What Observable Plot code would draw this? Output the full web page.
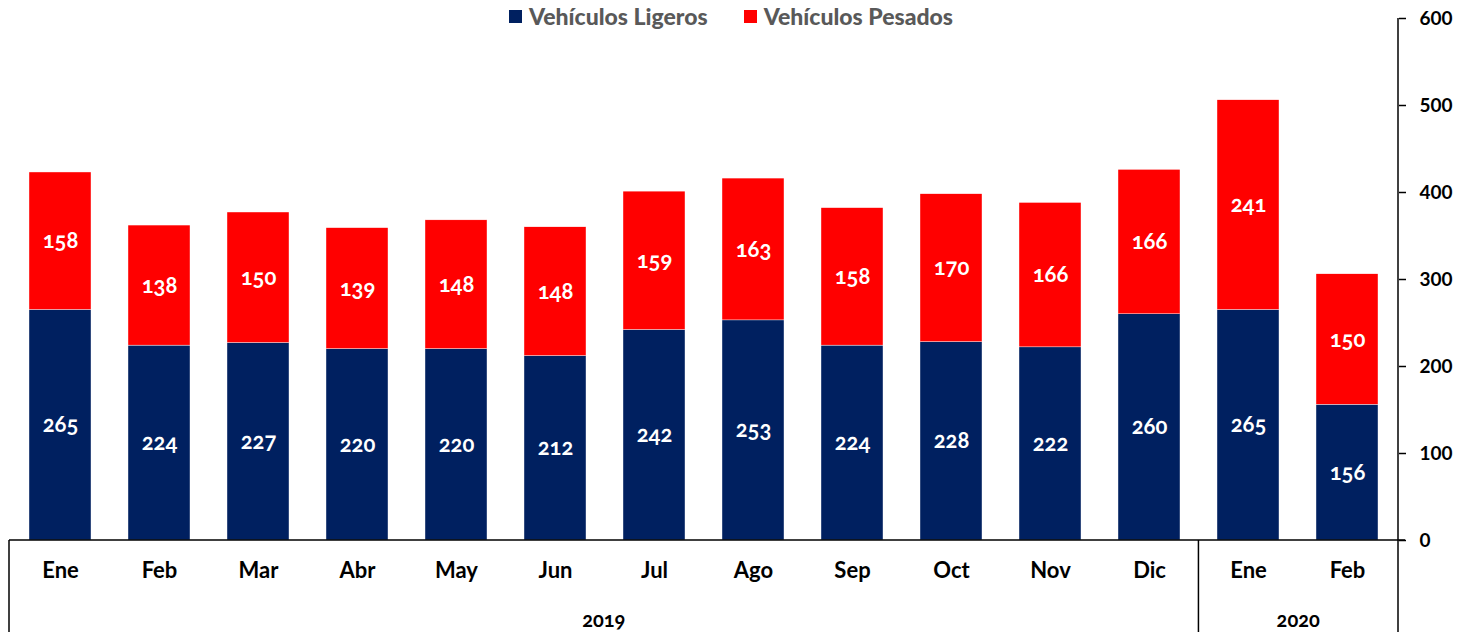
<!DOCTYPE html>
<html>
<head>
<meta charset="utf-8">
<script src="https://cdn.jsdelivr.net/npm/d3@7"></script>
<script src="https://cdn.jsdelivr.net/npm/@observablehq/plot@0.6"></script>
<style>
  html, body { margin: 0; padding: 0; background: #fff; }
  #wrap { position: relative; width: 1462px; height: 632px; font-family: Lato, "Open Sans", sans-serif; }
  #legend { position: absolute; top: 2px; left: 0; width: 1462px; display: flex; justify-content: center; gap: 36px;
            font-size: 23px; font-weight: 900; color: #595959; padding-left: 0; box-sizing: border-box; }
  #legend .item { display: flex; align-items: center; gap: 7px; }
  #legend .sw { width: 13px; height: 13px; display: inline-block; }
  svg { font-variant-numeric: oldstyle-nums; }
</style>
</head>
<body>
<div id="wrap">
  <div id="chart"></div>
  <div id="legend"></div>
</div>
<script>
const months = ["Ene","Feb","Mar","Abr","May","Jun","Jul","Ago","Sep","Oct","Nov","Dic","Ene","Feb"];
const years = ["2019","2019","2019","2019","2019","2019","2019","2019","2019","2019","2019","2019","2020","2020"];
const ligeros = [265,224,227,220,220,212,242,253,224,228,222,260,265,156];
const pesados = [158,138,150,139,148,148,159,163,158,170,166,166,241,150];
const seriesNames = ["Vehículos Ligeros","Vehículos Pesados"];
const seriesColors = ["#002060","#FF0000"];
const yTicks = [0,100,200,300,400,500,600];

const keys = months.map((m, i) => years[i] + "-" + m);
const data = [];
keys.forEach((k, i) => {
  data.push({key: k, series: seriesNames[0], value: ligeros[i]});
  data.push({key: k, series: seriesNames[1], value: pesados[i]});
});

const plot = Plot.plot({
  width: 1462,
  height: 632,
  marginLeft: 9,
  marginRight: 64,
  marginTop: 18,
  marginBottom: 92,
  style: {fontFamily: "Lato, 'Open Sans', sans-serif", fontSize: "20px", fontWeight: "bold", color: "#000", background: "transparent"},
  x: {type: "band", domain: keys, paddingInner: 0.375, paddingOuter: 0.1875, label: null},
  y: {domain: [0, 600], label: null},
  color: {domain: seriesNames, range: seriesColors},
  marks: [
    Plot.barY(data, {x: "key", y: "value", fill: "series", stroke: "white", strokeWidth: 0.4}),
    Plot.text(data, Plot.stackY({x: "key", y: "value", z: "series", text: d => String(d.value), fill: "white", fontSize: 22, fontWeight: "bold"})),
    Plot.axisY({anchor: "right", ticks: yTicks, tickSize: 7, tickPadding: 14, fontSize: 19, fontWeight: "bold", label: null, stroke: "#000", strokeWidth: 1.5}),
    Plot.axisX({anchor: "bottom", tickSize: 0, tickPadding: 22, tickFormat: k => k.split("-")[1], fontSize: 22, fontWeight: "bold", label: null})
  ]
});
document.getElementById("chart").appendChild(plot);

// Axis lines, group separators and year labels derived from Plot's scales
const xs = plot.scale("x");
const ys = plot.scale("y");
const [x0, x1] = xs.range;
const y0 = ys.apply(0);
const yTop = ys.apply(600);
const H = 632;
const svg = d3.select(plot);
const g = svg.append("g").attr("stroke", "#000").attr("stroke-width", 1.5);
g.append("line").attr("x1", x0).attr("x2", x1 + 7).attr("y1", y0).attr("y2", y0);
g.append("line").attr("x1", x0).attr("x2", x0).attr("y1", y0).attr("y2", H);
g.append("line").attr("x1", x1).attr("x2", x1).attr("y1", yTop).attr("y2", H);

const yearList = Array.from(new Set(years));
let start = 0;
yearList.forEach((yr) => {
  const n = years.filter(y => y === yr).length;
  const a = start === 0 ? x0 : xs.apply(keys[start]) - xs.step * xs.paddingInner / 2;
  const endIdx = start + n - 1;
  const b = endIdx === keys.length - 1 ? x1 : xs.apply(keys[endIdx]) + xs.bandwidth + xs.step * xs.paddingInner / 2;
  if (start > 0) {
    g.append("line").attr("x1", a).attr("x2", a).attr("y1", y0).attr("y2", H);
  }
  svg.append("text")
    .attr("x", (a + b) / 2)
    .attr("y", y0 + 87)
    .attr("text-anchor", "middle")
    .attr("font-size", 20)
    .attr("font-weight", "bold")
    .attr("fill", "#000")
    .text(yr);
  start += n;
});

// Legend
const legend = document.getElementById("legend");
seriesNames.forEach((s, i) => {
  const item = document.createElement("div");
  item.className = "item";
  const sw = document.createElement("span");
  sw.className = "sw";
  sw.style.background = seriesColors[i];
  const t = document.createElement("span");
  t.textContent = s;
  item.appendChild(sw);
  item.appendChild(t);
  legend.appendChild(item);
});
</script>
</body>
</html>
